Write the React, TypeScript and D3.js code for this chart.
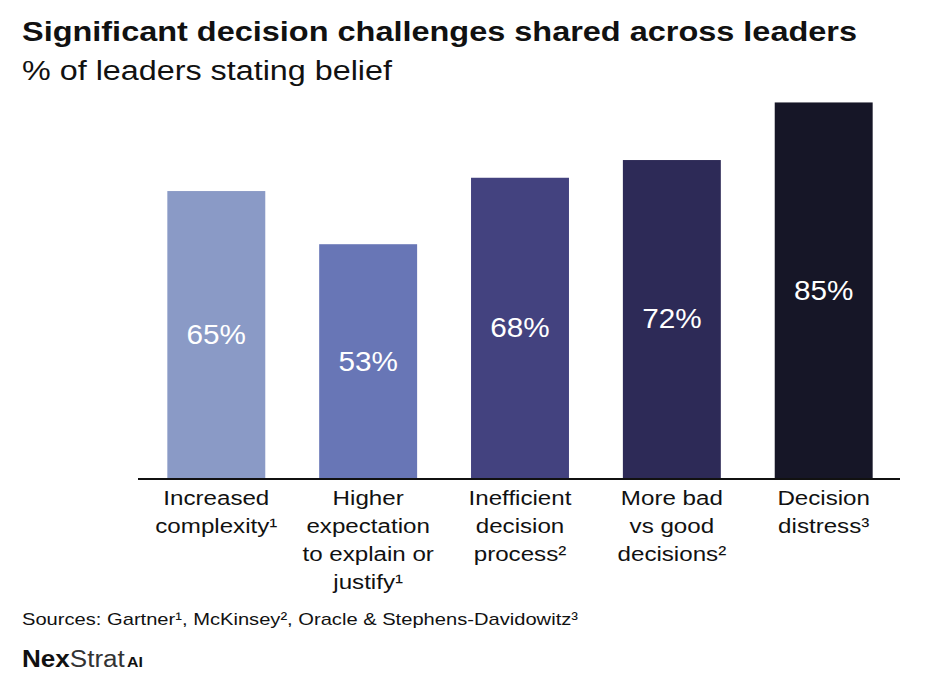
import React from "react";
import * as d3 from "d3";

const categories: string[][] = [
  ["Increased", "complexity¹"],
  ["Higher", "expectation", "to explain or", "justify¹"],
  ["Inefficient", "decision", "process²"],
  ["More bad", "vs good", "decisions²"],
  ["Decision", "distress³"],
];
const values: number[] = [65, 53, 68, 72, 85];
const barColors: string[] = ["#8a9ac6", "#6876b6", "#43427f", "#2d2a57", "#161627"];

const title = "Significant decision challenges shared across leaders";
const subtitle = "% of leaders stating belief";
const sources = "Sources: Gartner¹, McKinsey², Oracle & Stephens-Davidowitz³";

const W = 936;
const H = 678;
const FONT = "'Liberation Sans', Arial, Helvetica, sans-serif";

export default function App() {
  const idx = values.map((_, i) => String(i));
  const x = d3.scaleBand<string>().domain(idx).range([140, 900]).paddingInner(0.355).paddingOuter(0.18);
  const y = d3.scaleLinear().domain([0, 100]).range([479, 36]);
  const baseY = y(0);

  return (
    <svg
      width={W}
      height={H}
      style={{ position: "absolute", left: 0, top: 0, background: "#fff" }}
      fontFamily={FONT}
    >
      <text x={22} y={41} fontSize={28} fontWeight="bold" fill="#111" textLength={835} lengthAdjust="spacingAndGlyphs">
        {title}
      </text>
      <text x={22} y={80} fontSize={27} fill="#111" textLength={370} lengthAdjust="spacingAndGlyphs">
        {subtitle}
      </text>
      {values.map((v, i) => {
        const bx = x(String(i))!;
        const cx = bx + x.bandwidth() / 2;
        const top = y(v);
        return (
          <g key={i}>
            <rect x={bx} y={top} width={x.bandwidth()} height={baseY - top} fill={barColors[i]} />
            <text
              transform={`translate(${cx},${(top + baseY) / 2}) scale(1.1,1)`}
              dy="0.33em"
              textAnchor="middle"
              fontSize={27}
              fill="#fff"
            >
              {v}%
            </text>
            {categories[i].map((line, j) => (
              <text
                key={j}
                transform={`translate(${cx},${505 + j * 28}) scale(1.15,1)`}
                textAnchor="middle"
                fontSize={21}
                fill="#111"
              >
                {line}
              </text>
            ))}
          </g>
        );
      })}
      <line x1={138} x2={900} y1={baseY} y2={baseY} stroke="#111" strokeWidth={2} />
      <text x={22} y={625} fontSize={17} fill="#111" textLength={556} lengthAdjust="spacingAndGlyphs">
        {sources}
      </text>
      <text x={22} y={667} fill="#111" textLength={121} lengthAdjust="spacingAndGlyphs">
        <tspan fontSize={23} fontWeight="bold">Nex</tspan>
        <tspan fontSize={23} fontWeight="300" fill="#333">Strat</tspan>
        <tspan fontSize={14} fontWeight="bold" dx={2}>AI</tspan>
      </text>
    </svg>
  );
}
